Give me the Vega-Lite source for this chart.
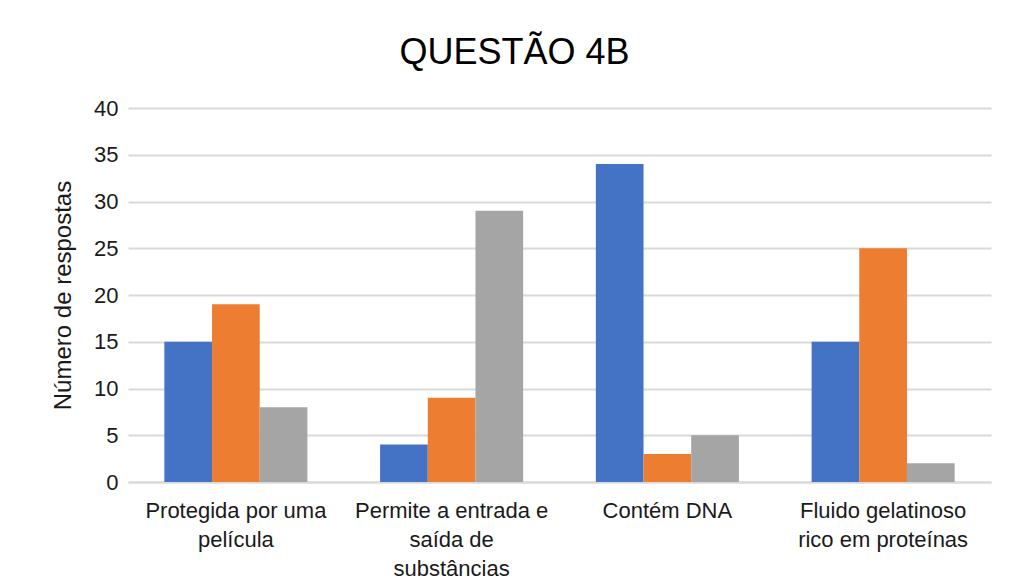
{
  "$schema": "https://vega.github.io/schema/vega-lite/v6.json",
  "autosize": "none",
  "width": 863,
  "height": 374,
  "padding": {"left": 128, "top": 108, "right": 21, "bottom": 106},
  "background": "white",
  "title": {
    "text": "QUESTÃO 4B",
    "fontSize": 36,
    "font": "Liberation Sans",
    "fontWeight": "normal",
    "color": "#000000",
    "anchor": "middle",
    "dx": -45,
    "offset": 25
  },
  "data": {
    "values": [
      {"categoria": "Protegida por uma|película", "ordem": 1, "serie": "Série 1", "valor": 15},
      {"categoria": "Protegida por uma|película", "ordem": 1, "serie": "Série 2", "valor": 19},
      {"categoria": "Protegida por uma|película", "ordem": 1, "serie": "Série 3", "valor": 8},
      {"categoria": "Permite a entrada e|saída de|substâncias", "ordem": 2, "serie": "Série 1", "valor": 4},
      {"categoria": "Permite a entrada e|saída de|substâncias", "ordem": 2, "serie": "Série 2", "valor": 9},
      {"categoria": "Permite a entrada e|saída de|substâncias", "ordem": 2, "serie": "Série 3", "valor": 29},
      {"categoria": "Contém DNA", "ordem": 3, "serie": "Série 1", "valor": 34},
      {"categoria": "Contém DNA", "ordem": 3, "serie": "Série 2", "valor": 3},
      {"categoria": "Contém DNA", "ordem": 3, "serie": "Série 3", "valor": 5},
      {"categoria": "Fluido gelatinoso|rico em proteínas", "ordem": 4, "serie": "Série 1", "valor": 15},
      {"categoria": "Fluido gelatinoso|rico em proteínas", "ordem": 4, "serie": "Série 2", "valor": 25},
      {"categoria": "Fluido gelatinoso|rico em proteínas", "ordem": 4, "serie": "Série 3", "valor": 2}
    ]
  },
  "mark": {"type": "bar"},
  "encoding": {
    "x": {
      "field": "categoria",
      "type": "nominal",
      "sort": {"field": "ordem"},
      "scale": {"paddingInner": 0.337, "paddingOuter": 0.1685},
      "axis": {
        "title": null,
        "labelAngle": 0,
        "labelExpr": "split(datum.label, '|')",
        "labelFontSize": 22,
        "labelFont": "Liberation Sans",
        "labelColor": "#1a1a1a",
        "labelLineHeight": 29,
        "labelPadding": 18,
        "labelBaseline": "top",
        "labelLimit": 300,
        "ticks": false,
        "domain": true,
        "domainColor": "#d9d9d9",
        "domainWidth": 2,
        "grid": false
      }
    },
    "xOffset": {"field": "serie", "type": "nominal", "scale": {"paddingInner": 0, "paddingOuter": 0}},
    "y": {
      "field": "valor",
      "type": "quantitative",
      "scale": {"domain": [0, 40]},
      "axis": {
        "title": "Número de respostas",
        "titleFontSize": 24,
        "titleFont": "Liberation Sans",
        "titleFontWeight": "normal",
        "titleColor": "#1a1a1a",
        "titlePadding": 18,
        "values": [0, 5, 10, 15, 20, 25, 30, 35, 40],
        "labelFontSize": 22,
        "labelFont": "Liberation Sans",
        "labelColor": "#1a1a1a",
        "labelPadding": 10,
        "ticks": false,
        "domain": false,
        "grid": true,
        "gridColor": "#d9d9d9",
        "gridWidth": 2
      }
    },
    "color": {
      "field": "serie",
      "type": "nominal",
      "scale": {"range": ["#4472C4", "#ED7D31", "#A5A5A5"]},
      "legend": null
    }
  },
  "config": {"view": {"stroke": null}}
}
